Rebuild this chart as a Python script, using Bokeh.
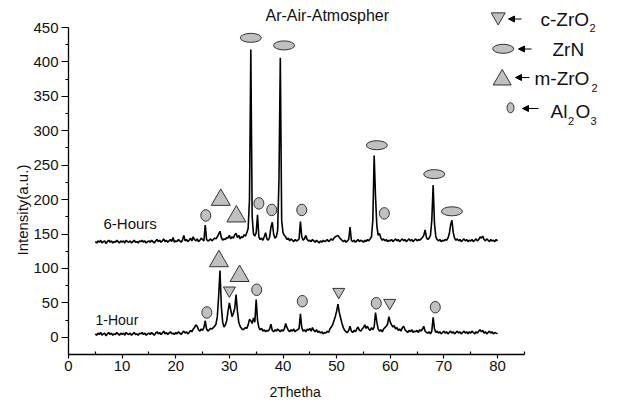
from bokeh.plotting import figure
from bokeh.models import FixedTicker, Arrow, NormalHead, Range1d, Title
from bokeh.core.properties import value
from bokeh.embed import file_html
from bokeh.resources import INLINE

# ---------------- data ----------------
scan_start = 5.0      # 2theta start of scan
scan_step = 0.25      # 2theta step of scan

one_hour = [
    5, 3, 6, 4, 7, 3, 5, 6, 2, 5, 7, 4, 6, 3, 5, 4, 7, 5, 3, 6,
    4, 6, 3, 7, 5, 4, 6, 3, 5, 7, 4, 5, 3, 6, 5, 7, 4, 6, 3, 5,
    6, 4, 7, 5, 3, 6, 8, 5, 7, 4, 6, 9, 5, 7, 4, 6, 8, 5, 6, 4,
    7, 5, 8, 6, 4, 7, 9, 6, 8, 5, 7, 10, 8, 12, 14, 18, 16, 11, 9, 12,
    10, 14, 24, 12, 9, 11, 13, 12, 14, 16, 19, 30, 60, 97, 45, 22, 15, 18, 24, 38,
    50, 40, 30, 35, 42, 62, 38, 22, 16, 13, 11, 12, 14, 13, 18, 26, 24, 20, 28, 22,
    55, 25, 14, 11, 13, 9, 11, 8, 10, 9, 12, 19, 10, 8, 11, 9, 12, 10, 8, 11,
    9, 12, 20, 14, 10, 8, 11, 9, 12, 8, 10, 11, 13, 34, 14, 9, 11, 8, 12, 10,
    13, 9, 14, 10, 8, 11, 7, 9, 6, 8, 5, 7, 6, 9, 7, 12, 15, 18, 24, 30,
    38, 48, 36, 28, 20, 14, 10, 8, 7, 10, 16, 9, 7, 10, 8, 12, 15, 10, 9, 12,
    14, 18, 13, 16, 12, 10, 14, 11, 15, 36, 22, 12, 9, 11, 8, 12, 14, 16, 19, 30,
    22, 18, 15, 17, 12, 14, 10, 12, 9, 14, 16, 11, 9, 7, 10, 8, 11, 7, 9, 8,
    10, 7, 11, 9, 12, 16, 9, 7, 6, 8, 5, 9, 29, 12, 7, 9, 6, 8, 5, 7,
    9, 6, 8, 5, 7, 9, 6, 8, 5, 7, 9, 6, 8, 5, 7, 9, 6, 8, 5, 8,
    6, 9, 7, 5, 8, 6, 9, 11, 8, 10, 6, 8, 5, 7, 9, 6, 8, 5, 7, 6,
    5,
]

six_hours = [
    139, 137, 140, 138, 141, 137, 139, 140, 136, 139, 141, 138, 140, 137, 139, 138, 141, 139, 137, 140,
    138, 140, 137, 141, 139, 138, 140, 137, 139, 141, 138, 139, 137, 140, 139, 141, 138, 140, 137, 139,
    140, 138, 141, 139, 137, 140, 142, 139, 141, 138, 140, 143, 139, 141, 138, 140, 142, 139, 145, 138,
    140, 139, 142, 140, 138, 141, 148, 140, 142, 139, 141, 144, 140, 146, 142, 140, 143, 139, 141, 144,
    142, 140, 163, 142, 140, 141, 143, 140, 142, 144, 143, 146, 150, 154, 145, 141, 143, 142, 145, 144,
    148, 143, 146, 144, 149, 151, 145, 148, 143, 146, 145, 149, 147, 152, 158, 200, 418, 175, 150, 147,
    152, 178, 146, 142, 144, 141, 146, 152, 143, 141, 145, 160, 167, 150, 144, 146, 155, 230, 406, 170,
    152, 148, 146, 142, 144, 140, 143, 141, 139, 142, 140, 141, 143, 168, 146, 141, 143, 148, 142, 140,
    141, 139, 142, 140, 138, 141, 139, 137, 140, 138, 141, 139, 140, 142, 139, 141, 143, 141, 144, 146,
    147, 148, 145, 143, 141, 139, 141, 138, 140, 142, 160, 141, 139, 141, 138, 140, 142, 139, 141, 140,
    138, 141, 139, 142, 140, 143, 146, 170, 264, 205, 162, 148, 151, 144, 141, 143, 140, 142, 139, 141,
    140, 142, 139, 141, 143, 140, 142, 139, 141, 143, 140, 142, 139, 141, 143, 140, 142, 139, 141, 143,
    140, 142, 141, 143, 145, 148, 156, 145, 142, 144, 148, 170, 221, 165, 146, 142, 140, 142, 139, 141,
    140, 142, 141, 144, 150, 163, 170, 152, 144, 141, 143, 140, 142, 139, 141, 143, 140, 142, 139, 141,
    140, 142, 139, 141, 143, 140, 142, 146, 144, 147, 142, 140, 143, 141, 139, 142, 140, 141, 139, 142,
    140,
]

two_theta = [round(scan_start + i * scan_step, 2) for i in range(len(one_hour))]

# phase markers (2theta, intensity)
m_zro2_x = [28.05, 31.9, 28.4, 31.3]
m_zro2_y = [110.5, 89, 199.6, 175.5]
c_zro2_x = [30.0, 50.4, 59.9]
c_zro2_y = [68, 66, 50]
zrn_x = [34.0, 40.2, 57.5, 68.2, 71.5]
zrn_y = [435, 424, 279, 237, 183]
al2o3_x = [25.8, 35.1, 43.6, 57.4, 68.4, 25.6, 35.5, 37.9, 43.5, 58.9]
al2o3_y = [36, 69, 52.4, 49.5, 43.7, 177, 194.5, 185, 185, 180]

x_ticks = [0, 10, 20, 30, 40, 50, 60, 70, 80]
y_ticks = [0, 50, 100, 150, 200, 250, 300, 350, 400, 450]

# ---------------- figure ----------------
W, H = 618, 411
LEFT, BOTTOM = 68, 57
XPX = 5.3625     # px per 2theta unit
YPX = 0.6884     # px per intensity unit
x_end = (W - LEFT) / XPX
y_start = -25
y_end = y_start + (H - BOTTOM) / YPX

p = figure(width=W, height=H, output_backend="svg", toolbar_location=None,
           x_range=Range1d(0, x_end), y_range=Range1d(y_start, y_end),
           min_border_left=LEFT, min_border_bottom=BOTTOM,
           min_border_top=0, min_border_right=0)
p.outline_line_color = None
p.grid.visible = False
p.background_fill_color = "white"
p.border_fill_color = "white"

FONT = "Liberation Sans"
INK = "#111111"

def px2x(px):
    # canvas pixel -> data x
    return (px - LEFT) / XPX

def py2y(py):
    # canvas pixel -> data y
    return (H - BOTTOM - py) / YPX + y_start

# axes
p.xaxis.bounds = (0, 85)
p.yaxis.bounds = (-25, 450)
p.xaxis.ticker = FixedTicker(ticks=x_ticks, minor_ticks=[5, 15, 25, 35, 45, 55, 65, 75, 85])
p.yaxis.ticker = FixedTicker(ticks=y_ticks, minor_ticks=[25, 75, 125, 175, 225, 275, 325, 375, 425])
for ax in (p.xaxis, p.yaxis):
    ax.axis_line_color = "black"
    ax.axis_line_width = 1.3
    ax.major_tick_line_color = "black"
    ax.minor_tick_line_color = "black"
    ax.major_tick_line_width = 1.2
    ax.minor_tick_line_width = 1.2
    ax.major_label_text_font = FONT
    ax.major_label_text_font_size = "15px"
    ax.major_label_text_color = INK

p.xaxis.major_tick_in = 0
p.xaxis.major_tick_out = 4
p.xaxis.minor_tick_in = 3
p.xaxis.minor_tick_out = 0
p.xaxis.major_label_standoff = 2

p.yaxis.major_tick_in = 0
p.yaxis.major_tick_out = 7
p.yaxis.minor_tick_in = 0
p.yaxis.minor_tick_out = 3
p.yaxis.major_label_standoff = 3

# axis titles, placed in the side panels so they can be centred on the drawn axis extent
p.add_layout(Title(text="2Thetha", align="left", offset=201, text_font=FONT,
                   text_font_size="14px", text_font_style="normal", text_color=INK,
                   standoff=17), "below")
p.add_layout(Title(text="Intensity(a.u.)", align="left", offset=99, text_font=FONT,
                   text_font_size="15px", text_font_style="normal", text_color=INK,
                   standoff=0), "left")

# traces
p.line(two_theta, one_hour, line_color="black", line_width=1.6)
p.line(two_theta, six_hours, line_color="black", line_width=1.6)

FILL = "#c0c0c0"
EDGE = "#333333"

# phase markers
p.scatter(m_zro2_x, m_zro2_y, marker="triangle", size=19,
          fill_color=FILL, line_color=EDGE, line_width=1)
p.scatter(c_zro2_x, c_zro2_y, marker="inverted_triangle", size=12,
          fill_color=FILL, line_color=EDGE, line_width=1)
p.ellipse(zrn_x, zrn_y, width=21, height=9, width_units="screen", height_units="screen",
          fill_color=FILL, line_color=EDGE, line_width=1)
p.ellipse(al2o3_x, al2o3_y, width=10, height=11.5, width_units="screen", height_units="screen",
          fill_color=FILL, line_color=EDGE, line_width=1)

def put_text(px, py, s, size, align="left"):
    p.text(x=[px2x(px)], y=[py2y(py)], text=[s], text_font=value(FONT),
           text_font_size=value(size), text_baseline="middle", text_align=align,
           text_color=INK)

# sample labels and heading
put_text(95, 319.5, "1-Hour", "14px")
put_text(103, 223, "6-Hours", "15px")
put_text(265, 15, "Ar-Air-Atmospher", "16px")

# legend (hand-drawn key)
p.scatter([px2x(497.7)], [py2y(16.4)], marker="inverted_triangle", size=14,
          fill_color=FILL, line_color=EDGE, line_width=1)
p.ellipse([px2x(502.7)], [py2y(48.3)], width=21, height=9, width_units="screen",
          height_units="screen", fill_color=FILL, line_color=EDGE, line_width=1)
p.scatter([px2x(501.7)], [py2y(79.3)], marker="triangle", size=18,
          fill_color=FILL, line_color=EDGE, line_width=1)
p.ellipse([px2x(510)], [py2y(107.3)], width=7, height=10, width_units="screen",
          height_units="screen", fill_color=FILL, line_color=EDGE, line_width=1)

for xs, xe, yy in [(521, 508, 18.5), (531, 518, 48.5), (529, 515, 77), (538, 522, 108)]:
    p.add_layout(Arrow(x_start=px2x(xs), y_start=py2y(yy), x_end=px2x(xe), y_end=py2y(yy),
                       line_color="black", line_width=1.2,
                       end=NormalHead(size=6, fill_color="black", line_color="black", line_width=1)))

put_text(540, 18.5, "c-ZrO", "19px")
put_text(589, 27, "2", "11px")
put_text(552, 48.5, "ZrN", "19px")
put_text(534, 78, "m-ZrO", "19px")
put_text(591, 87, "2", "11px")
put_text(550, 111, "Al", "19px")
put_text(567.5, 120, "2", "11px")
put_text(575, 111, "O", "19px")
put_text(590, 120, "3", "11px")

open("out.html", "w").write(file_html(p, INLINE))
